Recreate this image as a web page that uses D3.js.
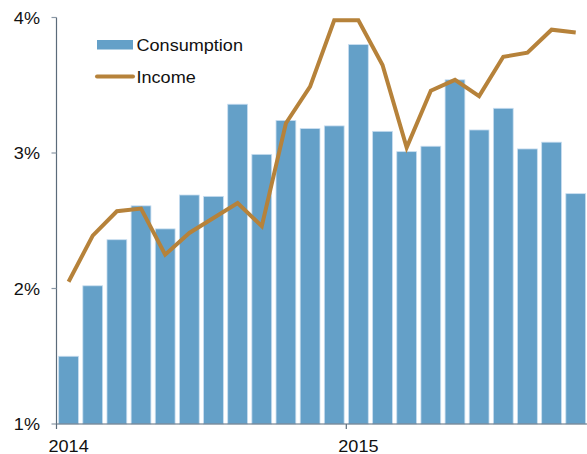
<!DOCTYPE html>
<meta charset="utf-8">
<style>
body { margin: 0; background: #fff; }
text { font-family: "Liberation Sans", Arial, sans-serif; fill: #111; }
</style>
<body>
<script src="https://cdnjs.cloudflare.com/ajax/libs/d3/7.8.5/d3.min.js"></script>
<script>

// monthly data, Jan 2014 - Oct 2015 (percent)
const months = ["2014-01","2014-02","2014-03","2014-04","2014-05","2014-06","2014-07","2014-08","2014-09","2014-10","2014-11","2014-12",
                "2015-01","2015-02","2015-03","2015-04","2015-05","2015-06","2015-07","2015-08","2015-09","2015-10"];
const consumption = [1.50, 2.02, 2.36, 2.61, 2.44, 2.69, 2.68, 3.36, 2.99, 3.24, 3.18, 3.20,
                     3.80, 3.16, 3.01, 3.05, 3.54, 3.17, 3.33, 3.03, 3.08, 2.70];
const income = [2.05, 2.39, 2.57, 2.59, 2.25, 2.41, 2.52, 2.63, 2.46, 3.22, 3.49, 3.98,
                3.98, 3.65, 3.04, 3.46, 3.54, 3.42, 3.71, 3.74, 3.91, 3.89];
const yTicks = [1, 2, 3, 4];
const yearTicks = ["2014-01", "2015-01"];

const width = 587, height = 454;
const margin = {top: 17.5, right: 0, bottom: 30, left: 56.5};
const sx = 1.13; // text in the source is stretched horizontally

const svg = d3.select("body").append("svg")
    .attr("width", width)
    .attr("height", height);

const x = d3.scaleBand()
    .domain(months)
    .range([margin.left, margin.left + 22 * 24.15])
    .paddingInner(0.18)
    .paddingOuter(0.09);

const y = d3.scaleLinear()
    .domain([1, 4])
    .range([424, margin.top]);

// bars
svg.append("g")
  .selectAll("rect")
  .data(consumption)
  .join("rect")
    .attr("x", (d, i) => x(months[i]))
    .attr("width", x.bandwidth())
    .attr("y", d => y(d))
    .attr("height", d => y(1) - y(d))
    .attr("fill", "#64a0c8")
    .attr("stroke", "#c9def0")
    .attr("stroke-width", 0.8);

// income line
const line = d3.line()
    .x((d, i) => x(months[i]) + x.bandwidth() / 2)
    .y(d => y(d));

svg.append("path")
    .datum(income)
    .attr("d", line)
    .attr("fill", "none")
    .attr("stroke", "#b6823a")
    .attr("stroke-width", 4)
    .attr("stroke-linejoin", "miter");

// y axis
const yAxis = svg.append("g");
yAxis.append("line")
    .attr("x1", margin.left).attr("x2", margin.left)
    .attr("y1", y(4)).attr("y2", y(1))
    .attr("stroke", "#5b6b7a").attr("stroke-width", 1.2);
yAxis.selectAll(".tick")
  .data(yTicks)
  .join("g")
    .attr("class", "tick")
    .each(function(d) {
      const g = d3.select(this);
      g.append("line")
          .attr("x1", margin.left - 5).attr("x2", margin.left)
          .attr("y1", y(d)).attr("y2", y(d))
          .attr("stroke", "#8a98a6").attr("stroke-width", 1.2);
      g.append("text")
          .attr("transform", `translate(40,${y(d) + 6}) scale(${sx},1)`)
          .attr("text-anchor", "end")
          .style("font-size", "16px")
          .text(d + "%");
    });

// x axis
const xAxis = svg.append("g");
xAxis.append("line")
    .attr("x1", margin.left).attr("x2", width)
    .attr("y1", y(1)).attr("y2", y(1))
    .attr("stroke", "#5b6b7a").attr("stroke-width", 1.2);
xAxis.selectAll(".tick")
  .data(yearTicks)
  .join("g")
    .attr("class", "tick")
    .each(function(d) {
      const g = d3.select(this);
      const px = x(d) - x.step() * x.paddingOuter();
      g.append("line")
          .attr("x1", px).attr("x2", px)
          .attr("y1", y(1)).attr("y2", y(1) + 5)
          .attr("stroke", "#5b6b7a").attr("stroke-width", 1.2);
      g.append("text")
          .attr("transform", `translate(${px - 8},${y(1) + 27.5}) scale(${sx},1)`)
          .style("font-size", "16px")
          .text(d.slice(0, 4));
    });

// legend
const legend = svg.append("g");
legend.append("rect")
    .attr("x", 97).attr("y", 40)
    .attr("width", 36).attr("height", 9.5)
    .attr("fill", "#64a0c8");
legend.append("text")
    .attr("transform", `translate(136.5,51) scale(${sx},1)`)
    .style("font-size", "16px")
    .text("Consumption");
legend.append("line")
    .attr("x1", 97).attr("x2", 133)
    .attr("y1", 76.5).attr("y2", 76.5)
    .attr("stroke", "#b6823a")
    .attr("stroke-width", 4)
    .attr("stroke-linecap", "round");
legend.append("text")
    .attr("transform", `translate(136.5,82.5) scale(${sx},1)`)
    .style("font-size", "16px")
    .text("Income");

</script>
